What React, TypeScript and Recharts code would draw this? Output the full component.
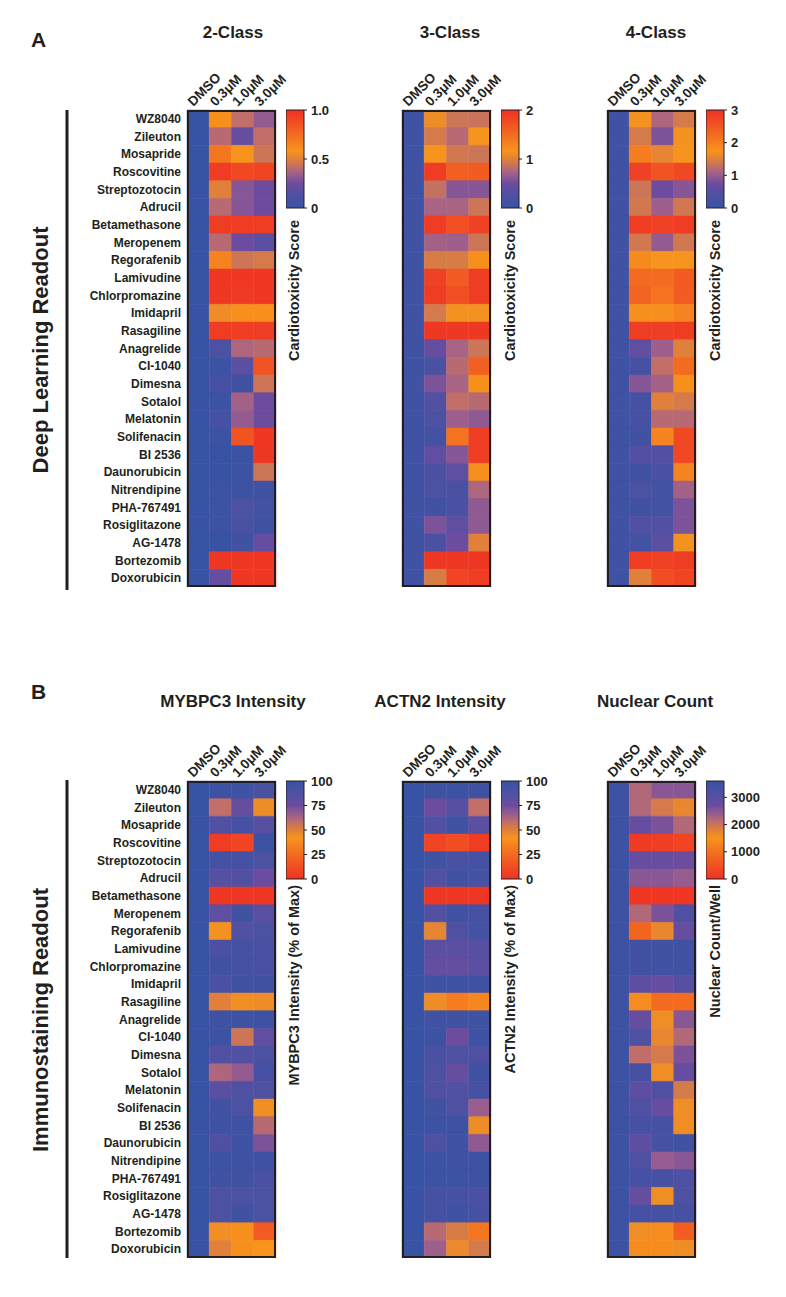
import React from 'react';
import { BarChart, Bar, XAxis, YAxis, Cell } from 'recharts';

const drugs = [
  'WZ8040', 'Zileuton', 'Mosapride', 'Roscovitine', 'Streptozotocin', 'Adrucil',
  'Betamethasone', 'Meropenem', 'Regorafenib', 'Lamivudine', 'Chlorpromazine',
  'Imidapril', 'Rasagiline', 'Anagrelide', 'CI-1040', 'Dimesna', 'Sotalol',
  'Melatonin', 'Solifenacin', 'BI 2536', 'Daunorubicin', 'Nitrendipine',
  'PHA-767491', 'Rosiglitazone', 'AG-1478', 'Bortezomib', 'Doxorubicin',
];
const doses = ['DMSO', '0.3μM', '1.0μM', '3.0μM'];

// panel A: deep learning cardiotoxicity score (DMSO, 0.3, 1.0, 3.0 uM)
const twoClass = [
  [0, 0.6, 0.42, 0.33], [0, 0.4, 0.22, 0.42], [0, 0.7, 0.58, 0.45], [0, 0.95, 0.9, 0.92],
  [0, 0.5, 0.3, 0.25], [0, 0.4, 0.3, 0.25], [0, 0.95, 0.95, 0.95], [0, 0.4, 0.25, 0.18],
  [0, 0.65, 0.45, 0.47], [0, 0.97, 0.97, 0.97], [0, 0.97, 0.96, 0.97], [0, 0.55, 0.6, 0.6],
  [0, 0.95, 0.95, 0.95], [0, 0.12, 0.38, 0.4], [0, 0.02, 0.18, 0.85], [0, 0.08, 0.05, 0.45],
  [0, 0.02, 0.36, 0.25], [0, 0.08, 0.33, 0.25], [0, 0.02, 0.85, 0.97], [0, 0, 0.02, 0.97],
  [0, 0, 0.02, 0.45], [0, 0.02, 0.02, 0.04], [0, 0.02, 0.12, 0.06], [0, 0.03, 0.1, 0.05],
  [0, 0, 0.05, 0.22], [0, 0.97, 0.97, 0.97], [0, 0.22, 0.97, 0.97],
];
const threeClass = [
  [0.08, 1.1, 0.9, 0.88], [0.08, 0.94, 0.8, 1.16], [0.08, 1.16, 0.92, 0.9], [0.08, 1.9, 1.6, 1.64],
  [0.08, 0.86, 0.6, 0.6], [0.08, 0.74, 0.74, 0.9], [0.08, 1.9, 1.74, 1.86], [0.08, 0.72, 0.7, 0.9],
  [0.08, 0.96, 0.96, 1.2], [0.08, 1.86, 1.64, 1.9], [0.08, 1.9, 1.74, 1.9], [0.08, 0.94, 1.14, 1.14],
  [0.08, 1.94, 1.94, 1.94], [0.08, 0.44, 0.74, 0.9], [0.08, 0.2, 0.8, 1.6], [0.08, 0.56, 0.74, 1.2],
  [0.08, 0.3, 0.84, 0.8], [0.08, 0.24, 0.7, 0.64], [0.08, 0.12, 1.44, 1.9], [0.08, 0.4, 0.6, 1.9],
  [0.08, 0.2, 0.4, 1.2], [0.08, 0.24, 0.2, 0.76], [0.08, 0.1, 0.2, 0.64], [0.08, 0.56, 0.4, 0.64],
  [0.08, 0.2, 0.5, 1.0], [0.08, 1.94, 1.94, 1.94], [0.08, 0.96, 1.84, 1.9],
];
const fourClass = [
  [0.1, 1.71, 1.14, 1.41], [0.1, 1.41, 0.84, 1.71], [0.1, 2.04, 1.56, 1.74], [0.1, 2.79, 2.55, 2.7],
  [0.1, 1.35, 0.75, 0.9], [0.1, 1.38, 1.05, 1.38], [0.1, 2.85, 2.79, 2.85], [0.1, 1.38, 0.99, 1.38],
  [0.1, 1.86, 1.74, 1.74], [0.1, 2.25, 2.25, 2.46], [0.1, 2.34, 2.16, 2.46], [0.1, 1.8, 1.8, 1.95],
  [0.1, 2.85, 2.85, 2.85], [0.1, 0.6, 1.05, 1.5], [0.1, 0.24, 1.26, 2.25], [0.1, 0.9, 1.08, 1.8],
  [0.1, 0.24, 1.5, 1.41], [0.1, 0.24, 1.2, 1.2], [0.1, 0.15, 1.95, 2.7], [0.1, 0.45, 0.45, 2.7],
  [0.1, 0.15, 0.3, 1.95], [0.1, 0.36, 0.18, 1.08], [0.1, 0.15, 0.18, 0.84], [0.1, 0.45, 0.45, 0.84],
  [0.1, 0.18, 0.54, 1.71], [0.1, 2.85, 2.79, 2.85], [0.1, 1.5, 2.64, 2.76],
];

// panel B: immunostaining readout
const mybpc3 = [
  [100, 97, 96, 90], [100, 58, 78, 45], [100, 85, 92, 83], [100, 5, 8, 97],
  [100, 93, 92, 88], [100, 83, 85, 75], [100, 3, 3, 3], [100, 80, 95, 82],
  [100, 43, 85, 88], [100, 90, 93, 90], [100, 95, 92, 90], [100, 90, 95, 95],
  [100, 50, 44, 45], [100, 97, 97, 97], [100, 97, 55, 80], [100, 85, 85, 88],
  [100, 62, 67, 92], [100, 82, 87, 86], [100, 95, 88, 44], [100, 96, 96, 60],
  [100, 87, 96, 72], [100, 98, 97, 96], [100, 95, 95, 90], [100, 88, 88, 88],
  [100, 88, 95, 88], [100, 44, 40, 18], [100, 50, 40, 42],
];
const actn2 = [
  [100, 97, 97, 95], [100, 75, 83, 58], [100, 85, 95, 82], [100, 8, 12, 5],
  [100, 95, 90, 93], [100, 85, 95, 93], [100, 3, 3, 3], [100, 85, 95, 92],
  [100, 48, 87, 93], [100, 82, 82, 83], [100, 78, 78, 82], [100, 96, 96, 96],
  [100, 45, 32, 36], [100, 96, 95, 96], [100, 97, 75, 96], [100, 90, 88, 87],
  [100, 88, 78, 95], [100, 87, 85, 92], [100, 95, 86, 66], [100, 97, 97, 45],
  [100, 86, 96, 68], [100, 98, 97, 97], [100, 98, 98, 97], [100, 92, 92, 90],
  [100, 93, 96, 92], [100, 60, 52, 30], [100, 65, 46, 53],
];
const nuclear = [
  [3500, 2200, 2500, 2500], [3500, 2200, 1900, 1700], [3500, 2800, 2600, 2200], [3500, 150, 200, 300],
  [3500, 2800, 2800, 2700], [3500, 2500, 2500, 2400], [3500, 100, 100, 100], [3500, 2200, 2600, 3100],
  [3500, 800, 1700, 2800], [3500, 3400, 3400, 3400], [3500, 3400, 3450, 3400], [3500, 2900, 2800, 3000],
  [3500, 1400, 900, 900], [3500, 2800, 1600, 2500], [3500, 3100, 1700, 2200], [3500, 2100, 1900, 2600],
  [3500, 3300, 1600, 2800], [3500, 2900, 3100, 1900], [3500, 3100, 2800, 1600], [3500, 3300, 3300, 1600],
  [3500, 2900, 3300, 3400], [3500, 3100, 2400, 2500], [3500, 3300, 3300, 3200], [3500, 2800, 1600, 3100],
  [3500, 3300, 3350, 3300], [3500, 1600, 1400, 700], [3500, 1400, 1400, 1600],
];

const FONT = '"Liberation Sans", Arial, Helvetica, sans-serif';
const INK = '#231f20';

// blue -> purple -> mauve -> orange -> red
const STOPS: [number, string][] = [
  [0, '#3953a4'], [0.15, '#5250a2'], [0.25, '#6d4c9f'], [0.35, '#9e5f8c'],
  [0.42, '#c16f68'], [0.5, '#e0803a'], [0.58, '#f7941d'], [0.75, '#f36b21'], [1, '#ee3124'],
];
const hex = (s: string) => [1, 3, 5].map(i => parseInt(s.slice(i, i + 2), 16));
function heat(t: number) {
  t = Math.max(0, Math.min(1, t));
  for (let k = 1; k < STOPS.length; k++) {
    const [t1, c1] = STOPS[k];
    const [t0, c0] = STOPS[k - 1];
    if (t <= t1) {
      const f = (t - t0) / (t1 - t0);
      const a = hex(c0), b = hex(c1);
      const m = a.map((v, i) => Math.round(v + (b[i] - v) * f));
      return `rgb(${m[0]},${m[1]},${m[2]})`;
    }
  }
  return STOPS[STOPS.length - 1][1];
}

const BOX_W = 89;
const BOX_H = 477;
const AXIS_H = 56;
const PAD_R = 40;
const PAD_L = 20;
const CB_W = 18;
const CB_H = 98;

const DoseTick = (props: any) => {
  const { x, y, payload } = props;
  const label = doses[Math.floor(payload.value)];
  return (
    <text x={0} y={0} transform={`translate(${x - 5},${y - 1}) rotate(-45)`}
      fontSize={13.5} fontWeight={700} fill={INK} fontFamily={FONT}>{label}</text>
  );
};

const Heatmap = ({ values, max, invert, left, top, showNames }: any) => {
  const data = drugs.map(drug => ({ drug, d0: 1, d1: 1, d2: 1, d3: 1 }));
  const yw = showNames ? 110 : 0;
  const padL = showNames ? 0 : PAD_L;
  const off = yw + padL;
  const toT = (v: number) => (invert ? 1 - v / max : v / max);
  return (
    <div style={{ position: 'absolute', left: left - off, top: top - AXIS_H }}>
      <BarChart layout="vertical" width={off + BOX_W + PAD_R} height={AXIS_H + BOX_H} data={data}
        margin={{ top: 0, right: PAD_R, bottom: 0, left: padL }} barCategoryGap={0} barGap={0}>
        <XAxis type="number" orientation="top" domain={[0, 4]} ticks={[0.5, 1.5, 2.5, 3.5]}
          height={AXIS_H} axisLine={false} tickLine={false} tickSize={0} interval={0} tick={DoseTick} />
        <YAxis type="category" dataKey="drug" width={yw} hide={!showNames} axisLine={false}
          tickLine={false} tickSize={0} tickMargin={6} interval={0}
          tick={{ fontSize: 12, fontWeight: 700, fill: INK, fontFamily: FONT }} />
        {doses.map((d, j) => (
          <Bar key={d} dataKey={`d${j}`} stackId="h" isAnimationActive={false}>
            {values.map((row: number[], i: number) => {
              const c = heat(toT(row[j]));
              return <Cell key={i} fill={c} stroke={c} strokeWidth={0.5} />;
            })}
          </Bar>
        ))}
      </BarChart>
      <div style={{
        position: 'absolute', left: off, top: AXIS_H, width: BOX_W, height: BOX_H,
        border: `2px solid ${INK}`, boxSizing: 'border-box', pointerEvents: 'none',
      }} />
    </div>
  );
};

const cbFormat = (max: number) => (v: number) => (v === 0 ? '0' : max === 1 ? v.toFixed(1) : String(v));

const ColorBar = ({ id, max, ticks, invert, left, top }: any) => {
  const n = 24;
  return (
    <div style={{ position: 'absolute', left, top: top - 8 }}>
      <BarChart width={CB_W + 50} height={CB_H + 16} data={[{ k: 'a', v: max }]}
        margin={{ top: 8, right: 0, bottom: 8, left: 0 }} barCategoryGap={0}>
        <defs>
          <linearGradient id={id} x1="0" y1="0" x2="0" y2="1">
            {Array.from({ length: n + 1 }, (_, i) => (
              <stop key={i} offset={`${(i / n) * 100}%`} stopColor={heat(invert ? i / n : 1 - i / n)} />
            ))}
          </linearGradient>
        </defs>
        <XAxis type="category" dataKey="k" hide />
        <YAxis type="number" orientation="right" domain={[0, max]} ticks={ticks} width={50}
          axisLine={false} tickSize={3} tickMargin={4} stroke={INK} interval={0}
          tickFormatter={cbFormat(max)}
          tick={{ fontSize: 13, fontWeight: 700, fill: INK, fontFamily: FONT }} />
        <Bar dataKey="v" fill={`url(#${id})`} stroke={INK} strokeWidth={1} isAnimationActive={false} />
      </BarChart>
    </div>
  );
};

const TOP_A = 110;
const TOP_B = 781;
const BOX_X = [187, 402, 607];
const CB_X = [286, 501, 706];
const CB_LABEL_X = [294, 510, 715];

const titlesA = ['2-Class', '3-Class', '4-Class'];
const titlesB = ['MYBPC3 Intensity', 'ACTN2 Intensity', 'Nuclear Count'];
const titleXA = [233, 450, 656];
const titleXB = [233, 440, 655];
const cbLabelsA = ['Cardiotoxicity Score', 'Cardiotoxicity Score', 'Cardiotoxicity Score'];
const cbLabelsB = ['MYBPC3 Intensity (% of Max)', 'ACTN2 Intensity (% of Max)', 'Nuclear Count/Well'];

export default function App() {
  const txt = { fontFamily: FONT, fontWeight: 700, fill: INK } as any;
  return (
    <div style={{ position: 'absolute', left: 0, top: 0, width: 786, height: 1297, background: '#fff', fontFamily: FONT }}>
      <svg width={786} height={1297} style={{ position: 'absolute', left: 0, top: 0 }}>
        <text x={31} y={47} fontSize={21} {...txt}>A</text>
        <text x={31} y={699} fontSize={21} {...txt}>B</text>
        {titlesA.map((t, i) => (
          <text key={t} x={titleXA[i]} y={38} fontSize={17} textAnchor="middle" {...txt}>{t}</text>
        ))}
        {titlesB.map((t, i) => (
          <text key={t} x={titleXB[i]} y={707} fontSize={17} textAnchor="middle" {...txt}>{t}</text>
        ))}
        <text transform="translate(40,350) rotate(-90)" fontSize={22} textAnchor="middle" dominantBaseline="central" {...txt}>Deep Learning Readout</text>
        <text transform="translate(40,1020) rotate(-90)" fontSize={22} textAnchor="middle" dominantBaseline="central" {...txt}>Immunostaining Readout</text>
        <line x1={67} x2={67} y1={110} y2={590} stroke={INK} strokeWidth={3} />
        <line x1={67} x2={67} y1={780} y2={1258} stroke={INK} strokeWidth={3} />
        {cbLabelsA.map((t, i) => (
          <text key={'a' + i} transform={`translate(${CB_LABEL_X[i]},${TOP_A + CB_H + 12}) rotate(-90)`}
            fontSize={14.5} textAnchor="end" dominantBaseline="central" {...txt}>{t}</text>
        ))}
        {cbLabelsB.map((t, i) => (
          <text key={'b' + i} transform={`translate(${CB_LABEL_X[i]},${TOP_B + CB_H + 6}) rotate(-90)`}
            fontSize={14.5} textAnchor="end" dominantBaseline="central" {...txt}>{t}</text>
        ))}
      </svg>

      <Heatmap values={twoClass} max={1} left={BOX_X[0]} top={TOP_A} showNames />
      <Heatmap values={threeClass} max={2} left={BOX_X[1]} top={TOP_A} />
      <Heatmap values={fourClass} max={3} left={BOX_X[2]} top={TOP_A} />
      <ColorBar id="cbA1" max={1} ticks={[0, 0.5, 1]} left={CB_X[0]} top={TOP_A} />
      <ColorBar id="cbA2" max={2} ticks={[0, 1, 2]} left={CB_X[1]} top={TOP_A} />
      <ColorBar id="cbA3" max={3} ticks={[0, 1, 2, 3]} left={CB_X[2]} top={TOP_A} />

      <Heatmap values={mybpc3} max={100} invert left={BOX_X[0]} top={TOP_B} showNames />
      <Heatmap values={actn2} max={100} invert left={BOX_X[1]} top={TOP_B} />
      <Heatmap values={nuclear} max={3600} invert left={BOX_X[2]} top={TOP_B} />
      <ColorBar id="cbB1" max={100} ticks={[0, 25, 50, 75, 100]} invert left={CB_X[0]} top={TOP_B} />
      <ColorBar id="cbB2" max={100} ticks={[0, 25, 50, 75, 100]} invert left={CB_X[1]} top={TOP_B} />
      <ColorBar id="cbB3" max={3600} ticks={[0, 1000, 2000, 3000]} invert left={CB_X[2]} top={TOP_B} />
    </div>
  );
}
